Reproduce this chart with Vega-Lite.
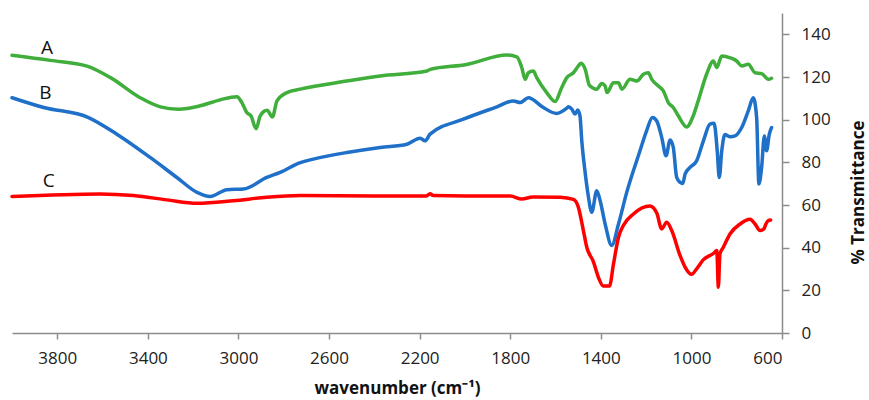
{
  "$schema": "https://vega.github.io/schema/vega-lite/v6.json",
  "autosize": {"type": "none"},
  "width": 770,
  "height": 320,
  "padding": {"left": 12, "top": 13, "right": 87, "bottom": 67},
  "background": "white",
  "config": {
    "view": {"stroke": null},
    "axis": {
      "grid": false,
      "domainColor": "#8c8c8c",
      "tickColor": "#8c8c8c",
      "domainWidth": 1.5,
      "tickWidth": 1.5,
      "labelFont": "Open Sans",
      "labelFontSize": 17,
      "labelColor": "#222222",
      "titleFont": "Open Sans",
      "titleFontSize": 17,
      "titleFontWeight": "bold",
      "titleColor": "#111111"
    }
  },
  "datasets": {
    "spectra": [
      {"series": "A", "wn": 4000, "T": 130.2},
      {"series": "A", "wn": 3831, "T": 127.8},
      {"series": "A", "wn": 3669, "T": 125.1},
      {"series": "A", "wn": 3565, "T": 119.7},
      {"series": "A", "wn": 3434, "T": 110.3},
      {"series": "A", "wn": 3345, "T": 106},
      {"series": "A", "wn": 3265, "T": 104.9},
      {"series": "A", "wn": 3169, "T": 106.5},
      {"series": "A", "wn": 3081, "T": 109.3},
      {"series": "A", "wn": 3007, "T": 110.8},
      {"series": "A", "wn": 2985, "T": 108},
      {"series": "A", "wn": 2963, "T": 103.3},
      {"series": "A", "wn": 2945, "T": 101.8},
      {"series": "A", "wn": 2922, "T": 95.8},
      {"series": "A", "wn": 2904, "T": 101.8},
      {"series": "A", "wn": 2874, "T": 104.4},
      {"series": "A", "wn": 2850, "T": 101.3},
      {"series": "A", "wn": 2830, "T": 108.8},
      {"series": "A", "wn": 2786, "T": 112.7},
      {"series": "A", "wn": 2727, "T": 114.3},
      {"series": "A", "wn": 2521, "T": 118.1},
      {"series": "A", "wn": 2374, "T": 120.5},
      {"series": "A", "wn": 2168, "T": 122.8},
      {"series": "A", "wn": 2154, "T": 123.6},
      {"series": "A", "wn": 1992, "T": 125.9},
      {"series": "A", "wn": 1815, "T": 130.3},
      {"series": "A", "wn": 1771, "T": 129.4},
      {"series": "A", "wn": 1749, "T": 124.4},
      {"series": "A", "wn": 1734, "T": 118.9},
      {"series": "A", "wn": 1720, "T": 122},
      {"series": "A", "wn": 1698, "T": 122.8},
      {"series": "A", "wn": 1683, "T": 119.7},
      {"series": "A", "wn": 1639, "T": 112.7},
      {"series": "A", "wn": 1602, "T": 108.5},
      {"series": "A", "wn": 1575, "T": 114.5},
      {"series": "A", "wn": 1550, "T": 119.7},
      {"series": "A", "wn": 1521, "T": 122},
      {"series": "A", "wn": 1499, "T": 125.2},
      {"series": "A", "wn": 1487, "T": 126.5},
      {"series": "A", "wn": 1469, "T": 123.6},
      {"series": "A", "wn": 1450, "T": 116},
      {"series": "A", "wn": 1418, "T": 114.3},
      {"series": "A", "wn": 1396, "T": 116.9},
      {"series": "A", "wn": 1381, "T": 115.8},
      {"series": "A", "wn": 1373, "T": 112.7},
      {"series": "A", "wn": 1344, "T": 117.3},
      {"series": "A", "wn": 1322, "T": 117.3},
      {"series": "A", "wn": 1307, "T": 114.3},
      {"series": "A", "wn": 1271, "T": 118.9},
      {"series": "A", "wn": 1241, "T": 118.1},
      {"series": "A", "wn": 1212, "T": 121.3},
      {"series": "A", "wn": 1190, "T": 122},
      {"series": "A", "wn": 1175, "T": 118.9},
      {"series": "A", "wn": 1146, "T": 115.8},
      {"series": "A", "wn": 1124, "T": 113.5},
      {"series": "A", "wn": 1102, "T": 108},
      {"series": "A", "wn": 1080, "T": 105.7},
      {"series": "A", "wn": 1058, "T": 101.8},
      {"series": "A", "wn": 1021, "T": 96.6},
      {"series": "A", "wn": 992, "T": 101.8},
      {"series": "A", "wn": 970, "T": 108.8},
      {"series": "A", "wn": 933, "T": 121.3},
      {"series": "A", "wn": 903, "T": 127.5},
      {"series": "A", "wn": 888, "T": 124.4},
      {"series": "A", "wn": 866, "T": 129.8},
      {"series": "A", "wn": 829, "T": 129},
      {"series": "A", "wn": 800, "T": 127.5},
      {"series": "A", "wn": 778, "T": 125.2},
      {"series": "A", "wn": 749, "T": 126},
      {"series": "A", "wn": 719, "T": 122},
      {"series": "A", "wn": 690, "T": 121.6},
      {"series": "A", "wn": 660, "T": 118.9},
      {"series": "A", "wn": 646, "T": 119.4},

      {"series": "B", "wn": 4000, "T": 110.3},
      {"series": "B", "wn": 3860, "T": 105.7},
      {"series": "B", "wn": 3662, "T": 101},
      {"series": "B", "wn": 3537, "T": 93.2},
      {"series": "B", "wn": 3390, "T": 82.3},
      {"series": "B", "wn": 3272, "T": 72.9},
      {"series": "B", "wn": 3183, "T": 65.9},
      {"series": "B", "wn": 3125, "T": 64},
      {"series": "B", "wn": 3051, "T": 67.2},
      {"series": "B", "wn": 2978, "T": 67.5},
      {"series": "B", "wn": 2875, "T": 72.9},
      {"series": "B", "wn": 2816, "T": 75.3},
      {"series": "B", "wn": 2727, "T": 79.9},
      {"series": "B", "wn": 2669, "T": 81.5},
      {"series": "B", "wn": 2521, "T": 84.6},
      {"series": "B", "wn": 2374, "T": 87},
      {"series": "B", "wn": 2256, "T": 88.5},
      {"series": "B", "wn": 2198, "T": 91.3},
      {"series": "B", "wn": 2176, "T": 90.1},
      {"series": "B", "wn": 2154, "T": 93.2},
      {"series": "B", "wn": 2007, "T": 100.2},
      {"series": "B", "wn": 1859, "T": 106},
      {"series": "B", "wn": 1786, "T": 108.8},
      {"series": "B", "wn": 1756, "T": 108},
      {"series": "B", "wn": 1720, "T": 110.3},
      {"series": "B", "wn": 1654, "T": 105.7},
      {"series": "B", "wn": 1595, "T": 102.9},
      {"series": "B", "wn": 1550, "T": 105.4},
      {"series": "B", "wn": 1543, "T": 106},
      {"series": "B", "wn": 1528, "T": 104.9},
      {"series": "B", "wn": 1514, "T": 102.6},
      {"series": "B", "wn": 1502, "T": 104.5},
      {"series": "B", "wn": 1492, "T": 101.8},
      {"series": "B", "wn": 1484, "T": 90},
      {"series": "B", "wn": 1469, "T": 75},
      {"series": "B", "wn": 1455, "T": 64},
      {"series": "B", "wn": 1440, "T": 56.6},
      {"series": "B", "wn": 1418, "T": 66.7},
      {"series": "B", "wn": 1403, "T": 62},
      {"series": "B", "wn": 1381, "T": 51.1},
      {"series": "B", "wn": 1352, "T": 41},
      {"series": "B", "wn": 1322, "T": 51.1},
      {"series": "B", "wn": 1286, "T": 65.8},
      {"series": "B", "wn": 1227, "T": 85.4},
      {"series": "B", "wn": 1198, "T": 94.8},
      {"series": "B", "wn": 1172, "T": 101},
      {"series": "B", "wn": 1153, "T": 99.4},
      {"series": "B", "wn": 1131, "T": 91.6},
      {"series": "B", "wn": 1112, "T": 83.1},
      {"series": "B", "wn": 1094, "T": 90.5},
      {"series": "B", "wn": 1080, "T": 87},
      {"series": "B", "wn": 1065, "T": 72.9},
      {"series": "B", "wn": 1050, "T": 70.6},
      {"series": "B", "wn": 1038, "T": 70.1},
      {"series": "B", "wn": 1028, "T": 74.5},
      {"series": "B", "wn": 1006, "T": 77.6},
      {"series": "B", "wn": 977, "T": 80.7},
      {"series": "B", "wn": 947, "T": 90.1},
      {"series": "B", "wn": 918, "T": 97.9},
      {"series": "B", "wn": 900, "T": 98.3},
      {"series": "B", "wn": 886, "T": 85.4},
      {"series": "B", "wn": 877, "T": 72.9},
      {"series": "B", "wn": 866, "T": 85.4},
      {"series": "B", "wn": 852, "T": 93},
      {"series": "B", "wn": 829, "T": 92},
      {"series": "B", "wn": 807, "T": 92.4},
      {"series": "B", "wn": 778, "T": 96.3},
      {"series": "B", "wn": 749, "T": 104.1},
      {"series": "B", "wn": 727, "T": 110.3},
      {"series": "B", "wn": 712, "T": 101},
      {"series": "B", "wn": 702, "T": 69.8},
      {"series": "B", "wn": 690, "T": 77.6},
      {"series": "B", "wn": 678, "T": 92.4},
      {"series": "B", "wn": 668, "T": 85.4},
      {"series": "B", "wn": 656, "T": 93.2},
      {"series": "B", "wn": 646, "T": 96.3},

      {"series": "C", "wn": 4000, "T": 64},
      {"series": "C", "wn": 3610, "T": 65.2},
      {"series": "C", "wn": 3463, "T": 64.4},
      {"series": "C", "wn": 3316, "T": 62.4},
      {"series": "C", "wn": 3183, "T": 60.8},
      {"series": "C", "wn": 3022, "T": 62},
      {"series": "C", "wn": 2875, "T": 63.6},
      {"series": "C", "wn": 2727, "T": 64.4},
      {"series": "C", "wn": 2400, "T": 64.2},
      {"series": "C", "wn": 2170, "T": 64.2},
      {"series": "C", "wn": 2154, "T": 65.3},
      {"series": "C", "wn": 2140, "T": 64.4},
      {"series": "C", "wn": 2000, "T": 64.2},
      {"series": "C", "wn": 1800, "T": 64.2},
      {"series": "C", "wn": 1749, "T": 62.8},
      {"series": "C", "wn": 1700, "T": 63.8},
      {"series": "C", "wn": 1580, "T": 63.6},
      {"series": "C", "wn": 1521, "T": 62.6},
      {"series": "C", "wn": 1499, "T": 58.9},
      {"series": "C", "wn": 1477, "T": 48},
      {"series": "C", "wn": 1462, "T": 40.2},
      {"series": "C", "wn": 1433, "T": 33.5},
      {"series": "C", "wn": 1411, "T": 26.2},
      {"series": "C", "wn": 1389, "T": 22},
      {"series": "C", "wn": 1362, "T": 22},
      {"series": "C", "wn": 1344, "T": 32.4},
      {"series": "C", "wn": 1322, "T": 44.9},
      {"series": "C", "wn": 1300, "T": 50.5},
      {"series": "C", "wn": 1256, "T": 55.8},
      {"series": "C", "wn": 1183, "T": 59.5},
      {"series": "C", "wn": 1153, "T": 56.2},
      {"series": "C", "wn": 1131, "T": 48.8},
      {"series": "C", "wn": 1109, "T": 51.9},
      {"series": "C", "wn": 1087, "T": 48},
      {"series": "C", "wn": 1050, "T": 36.3},
      {"series": "C", "wn": 1028, "T": 30.9},
      {"series": "C", "wn": 999, "T": 27.5},
      {"series": "C", "wn": 977, "T": 30.1},
      {"series": "C", "wn": 947, "T": 34.4},
      {"series": "C", "wn": 900, "T": 37.5},
      {"series": "C", "wn": 888, "T": 38.7},
      {"series": "C", "wn": 881, "T": 21.5},
      {"series": "C", "wn": 874, "T": 37.1},
      {"series": "C", "wn": 859, "T": 40.2},
      {"series": "C", "wn": 829, "T": 46.5},
      {"series": "C", "wn": 785, "T": 51.1},
      {"series": "C", "wn": 741, "T": 53.3},
      {"series": "C", "wn": 719, "T": 51.1},
      {"series": "C", "wn": 697, "T": 48},
      {"series": "C", "wn": 680, "T": 48.8},
      {"series": "C", "wn": 671, "T": 51.1},
      {"series": "C", "wn": 660, "T": 52.7},
      {"series": "C", "wn": 650, "T": 53}
    ],
    "labels": [
      {"series": "A", "wn": 3845, "T": 133.7},
      {"series": "B", "wn": 3853, "T": 112.7},
      {"series": "C", "wn": 3838, "T": 71.4}
    ]
  },
  "layer": [
    {
      "data": {"name": "spectra"},
      "mark": {"type": "line", "strokeWidth": 3.5, "strokeJoin": "round", "strokeCap": "round", "interpolate": "monotone"},
      "encoding": {
        "x": {
          "field": "wn",
          "type": "quantitative",
          "scale": {"domain": [600, 4000], "reverse": true, "nice": false, "zero": false},
          "sort": null,
          "axis": {
            "values": [3800, 3400, 3000, 2600, 2200, 1800, 1400, 1000, 600],
            "format": "d",
            "title": "wavenumber (cm⁻¹)",
            "tickSize": 6,
            "labelPadding": 11,
            "titleY": 55,
            "titleBaseline": "middle"
          }
        },
        "y": {
          "field": "T",
          "type": "quantitative",
          "scale": {"domain": [0, 150], "nice": false},
          "axis": {
            "orient": "right",
            "values": [0, 20, 40, 60, 80, 100, 120, 140],
            "format": "d",
            "title": "% Transmittance",
            "tickSize": 7,
            "labelPadding": 12,
            "titleAngle": 270,
            "titleX": 76,
            "titleY": 179,
            "titleBaseline": "middle"
          }
        },
        "color": {
          "field": "series",
          "type": "nominal",
          "scale": {"domain": ["A", "B", "C"], "range": ["#3fae3a", "#1f70c8", "#ff0000"]},
          "legend": null
        },
        "order": {"field": "wn", "type": "quantitative", "sort": "descending"}
      }
    },
    {
      "data": {"name": "labels"},
      "mark": {"type": "text", "font": "Open Sans", "fontSize": 19, "color": "#111111", "baseline": "middle", "align": "center"},
      "encoding": {
        "x": {"field": "wn", "type": "quantitative"},
        "y": {"field": "T", "type": "quantitative"},
        "text": {"field": "series", "type": "nominal"}
      }
    }
  ]
}
